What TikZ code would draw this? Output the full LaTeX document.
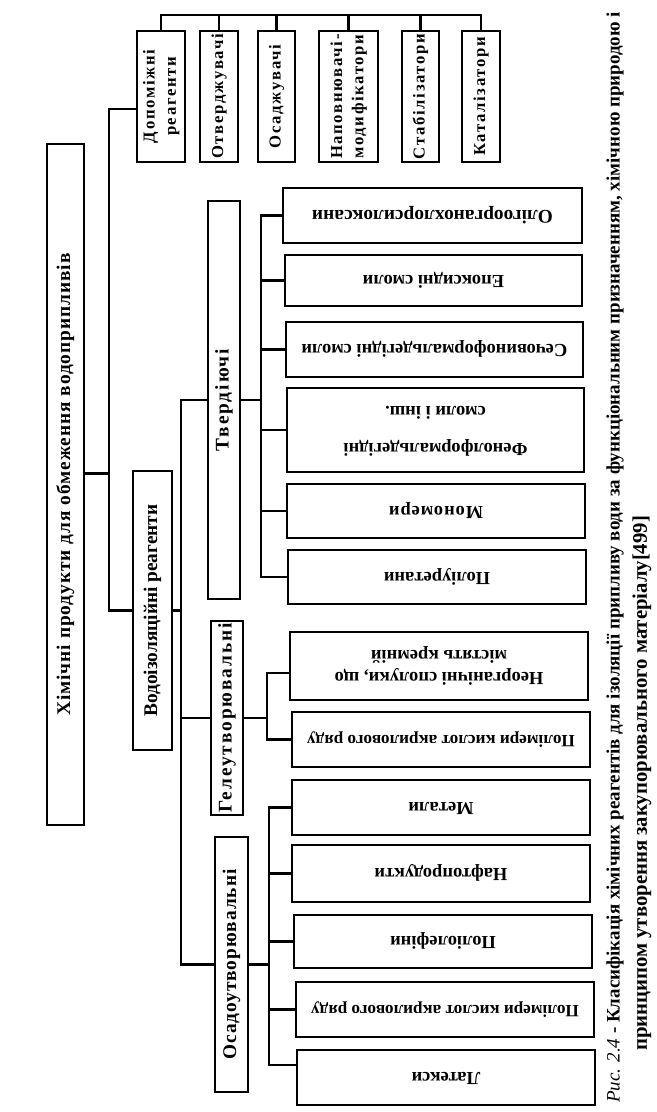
\documentclass[tikz,border=0pt]{standalone}
\usepackage{fontspec}
\setmainfont{Liberation Serif}
\newfontfamily\wideserif[LetterSpace=10]{Liberation Serif}
\newfontfamily\semiwide[LetterSpace=5]{Liberation Serif}
\usepackage{graphicx}
\newcommand{\vlab}[1]{\rotatebox{90}{\begin{tabular}{@{}c@{}}#1\end{tabular}}}
\newcommand{\flab}[1]{\rotatebox{180}{\begin{tabular}{@{}c@{}}#1\end{tabular}}}

\begin{document}
\begin{tikzpicture}[
  x=0.02cm, y=-0.02cm,
  line width=1.3pt,
  every node/.style={draw, line width=1.3pt, inner sep=0pt, align=center},
  cell/.style 2 args={minimum width=#1*0.02cm, minimum height=#2*0.02cm},
  topbox/.style={font=\wideserif\bfseries\fontsize{9.5}{12}\selectfont},
  sidebox/.style={font=\bfseries\fontsize{11}{13}\selectfont},
  leaf/.style={font=\bfseries\fontsize{10.5}{13}\selectfont},
  narrow/.style={font=\bfseries\fontsize{9.8}{12}\selectfont},
  caption/.style={draw=none, rotate=90, anchor=west, font=\bfseries\fontsize{10.8}{13}\selectfont}
]
\useasboundingbox (0,0) rectangle (656,1112);
\fill[white] (0,0) rectangle (656,1112);

% top row
\node[topbox, cell={48}{131}] (dop) at (161,96.5) {\vlab{Допоміжні\\реагенти}};
\node[topbox, cell={38}{131}] (otv) at (219,96.5) {\vlab{Отверджувачі}};
\node[topbox, cell={37}{131}] (osj) at (276.5,96.5) {\vlab{Осаджувачі}};
\node[topbox, cell={59}{131}] (nap) at (348.5,96.5) {\vlab{Наповнювачі-\\модифікатори}};
\node[topbox, cell={37}{131}] (stb) at (420.5,96.5) {\vlab{Стабілізатори}};
\node[topbox, cell={38}{131}] (kat) at (481,96.5) {\vlab{Каталізатори}};

% left column
\node[sidebox, cell={37}{681}] (root) at (65.5,484.5) {\vlab{\semiwide Хімічні продукти для обмеження водоприпливів}};
\node[sidebox, cell={39}{279}] (vod) at (152.5,610.5) {\vlab{Водоізоляційні реагенти}};
\node[sidebox, cell={32}{398}] (tvd) at (224,400) {\vlab{\wideserif Твердіючі}};
\node[sidebox, cell={32}{194}] (gel) at (227,718) {\vlab{\wideserif Гелеутворювальні}};
\node[sidebox, cell={33}{255}] (osd) at (231.5,964.5) {\vlab{\semiwide Осадоутворювальні}};

% leaves
\node[leaf, cell={299}{55}, font=\bfseries\fontsize{11}{13}\selectfont] (olig) at (432.5,215.5) {\flab{Олігоорганохлорсилоксани}};
\node[leaf, cell={297}{51}] (epox) at (433.5,280.5) {\flab{Епоксидні смоли}};
\node[leaf, cell={297}{55}] (sech) at (434.5,349.5) {\flab{Сечовиноформальдегідні смоли}};
\node[leaf, cell={297}{84}] (fenol) at (435.5,430) {\flab{Фенолформальдегідні\\[8pt]смоли і інш.}};
\node[leaf, cell={298}{54}] (monom) at (436,511) {\flab{\semiwide Мономери}};
\node[leaf, cell={298}{54}] (poliur) at (437,577) {\flab{Поліуретани}};
\node[leaf, cell={298}{68}] (neorg) at (439,666) {\flab{Неорганічні сполуки, що\\містять кремній}};
\node[leaf, narrow, cell={298}{55}] (akr1) at (441,739.5) {\flab{Полімери кислот акрилового ряду}};
\node[leaf, cell={298}{55}] (metal) at (441,807.5) {\flab{Метали}};
\node[leaf, cell={298}{57}] (nafta) at (441,873.5) {\flab{Нафтопродукти}};
\node[leaf, cell={298}{53}] (poliol) at (443,941.5) {\flab{Поліолефіни}};
\node[leaf, narrow, cell={298}{55}] (akr2) at (445,1009.5) {\flab{Полімери кислот акрилового ряду}};
\node[leaf, cell={298}{55}] (lateks) at (446,1077.5) {\flab{Латекси}};

% connectors
\coordinate (bus) at (0,15);
\coordinate (sp) at (109,0);
\coordinate (ss) at (181,0);
\coordinate (lt) at (261,0);
\coordinate (lg) at (267,0);
\coordinate (lo) at (269,0);
\coordinate (rootj) at ([yshift=0.22cm]root.east);
\coordinate (dopj) at ([yshift=-0.25cm]dop.west);
\coordinate (neorgj) at ([yshift=-0.14cm]neorg.west);
\coordinate (latj) at ([yshift=0.25cm]lateks.west);

\draw (dop.north) |- (bus -| kat.north) -- (kat.north);
\foreach \n in {otv,osj,nap,stb}
  \draw (\n.north) -- (\n.north |- bus);

\draw (dopj) -| (sp |- vod.west) -- (vod.west);
\draw (rootj) -- (rootj -| sp);

\draw (tvd.west) -| (ss |- osd.west) -- (osd.west);
\draw (gel.west) -- (gel.west -| ss);
\draw (vod.east) -- (vod.east -| ss);

\draw (olig.west) -| (lt |- poliur.west) -- (poliur.west);
\foreach \n in {epox,sech,fenol,monom}
  \draw (\n.west) -- (\n.west -| lt);
\draw (tvd.east) -- (tvd.east -| lt);

\draw (neorgj) -| (lg |- akr1.west) -- (akr1.west);
\draw (gel.east) -- (gel.east -| lg);

\draw (metal.west) -| (lo |- latj) -- (latj);
\foreach \n in {nafta,poliol,akr2}
  \draw (\n.west) -- (\n.west -| lo);
\draw (osd.east) -- (osd.east -| lo);

% caption
\node[caption] (cap1) at (615,1104) {{\mdseries\itshape Рис. 2.4} - Класифікація хімічних реагентів для ізоляції припливу води за функціональним призначенням, хімічною природою і};
\node[caption, font=\bfseries\fontsize{11.8}{14}\selectfont] (cap2) at (642,1052) {принципом утворення закупорювального матеріалу[499]};
\end{tikzpicture}
\end{document}
